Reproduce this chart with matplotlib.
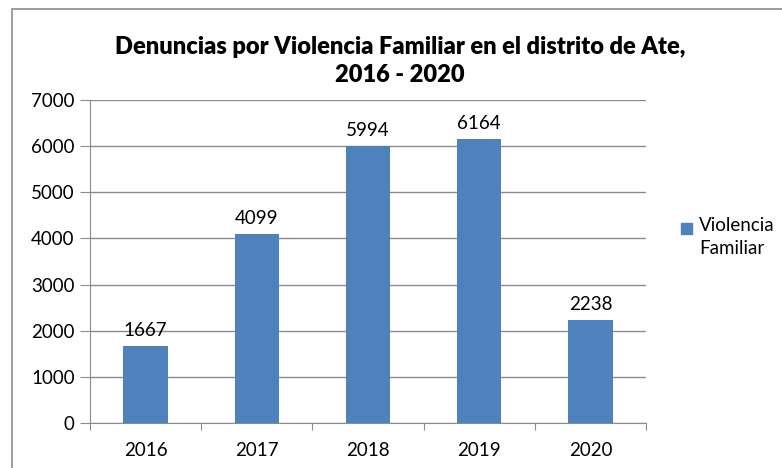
import numpy as np
import matplotlib.pyplot as plt
from matplotlib.patches import Rectangle

# datos
anios = ["2016", "2017", "2018", "2019", "2020"]
denuncias = [1667, 4099, 5994, 6164, 2238]
serie = "Violencia\nFamiliar"
titulo = "Denuncias por Violencia Familiar en el distrito de Ate,\n2016 - 2020"

plt.rcParams["font.family"] = ["Lato", "DejaVu Sans"]
azul = "#4f81bd"

fig = plt.figure(figsize=(7.82, 4.68), dpi=100)
fig.patches.append(Rectangle((12 / 782, -0.1), 1.2, 1.1 - 9 / 468, transform=fig.transFigure,
                             fill=False, edgecolor="#8c8c8c", linewidth=1.2))

ax = fig.add_axes([90 / 782, 1 - 423 / 468, 556 / 782, 323 / 468])
x = np.arange(len(anios))
ax.bar(x, denuncias, width=0.4, color=azul, label=serie, zorder=3)

for xi, v in zip(x, denuncias):
    ax.annotate(str(v), (xi, v), xytext=(0, 5), textcoords="offset points",
                ha="center", va="bottom", fontsize=13.5)

ax.set_xlim(-0.5, len(anios) - 0.5)
ax.set_ylim(0, 7000)
ax.set_yticks(range(0, 7001, 1000))
ax.grid(axis="y", color="#8c8c8c", linewidth=1, zorder=0)

ax.set_xticks(np.arange(-0.5, len(anios), 1))
ax.set_xticklabels([])
ax.set_xticks(x, minor=True)
ax.set_xticklabels(anios, minor=True)
ax.tick_params(axis="x", which="major", length=5, color="#8c8c8c")
ax.tick_params(axis="x", which="minor", length=0, pad=14, labelsize=13.5)
ax.tick_params(axis="y", length=7, color="#8c8c8c", labelsize=13.5, pad=4)

for s in ["top", "right"]:
    ax.spines[s].set_visible(False)
for s in ["left", "bottom"]:
    ax.spines[s].set_color("#8c8c8c")

fig.text(400 / 782, 1 - 61 / 468, titulo, ha="center", va="center",
         fontsize=17, fontweight="heavy", linespacing=1.35)

# leyenda a mano: cuadro alineado con la primera linea
fig.patches.append(Rectangle((681 / 782, 1 - 234 / 468), 11 / 782, 11 / 468,
                             transform=fig.transFigure, color=azul))
fig.text(699 / 782, 1 - 217 / 468, serie, ha="left", va="top",
         fontsize=13.5, linespacing=1.45)

fig.savefig("out.png", dpi=100)
